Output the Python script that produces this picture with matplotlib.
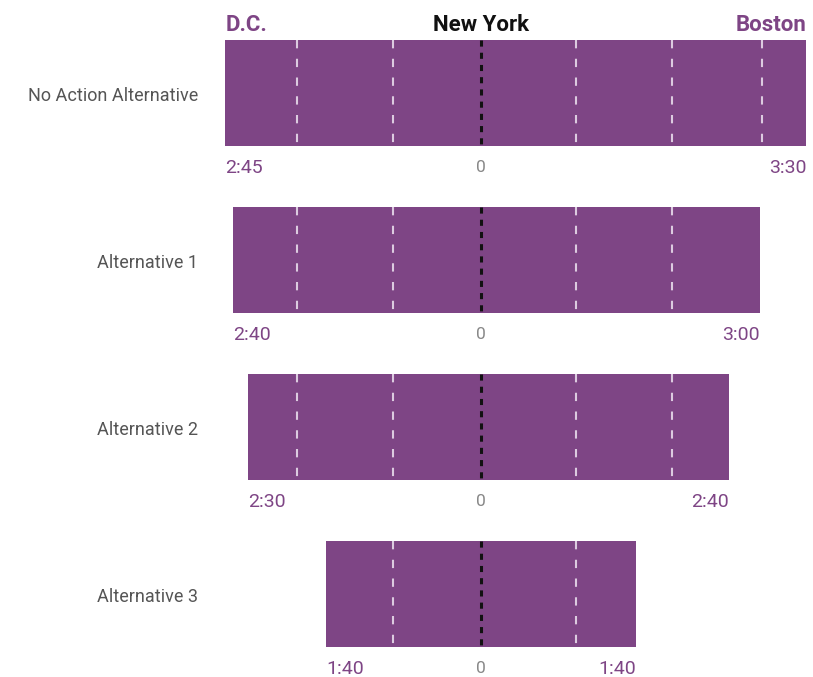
import matplotlib
matplotlib.use("Agg")
import matplotlib.pyplot as plt

# travel times in minutes from New York (toward D.C. / toward Boston)
alternatives = ["No Action Alternative", "Alternative 1", "Alternative 2", "Alternative 3"]
to_dc = [165, 160, 150, 100]
to_boston = [210, 180, 160, 100]
dc_labels = ["2:45", "2:40", "2:30", "1:40"]
boston_labels = ["3:30", "3:00", "2:40", "1:40"]

# intermediate stops along the corridor, minutes from New York
station_offsets = [-119, -57, 61, 123, 181]

purple = "#7e4585"
grey = "#555555"
narrow = ["Liberation Sans Narrow", "Roboto", "DejaVu Sans"]

fig = plt.figure(figsize=(8.13, 6.77), dpi=100)
ax = fig.add_axes([0, 0, 1, 1])
ax.set_xlim(-310.3, 214.2)
ax.set_ylim(3.497, -0.557)
ax.axis("off")

rows = list(range(len(alternatives)))
h = 0.635
ax.barh(rows, [l + r for l, r in zip(to_dc, to_boston)], left=[-l for l in to_dc],
        height=h, color=purple, linewidth=0)

label_x = -182.6
for i, (l, r) in enumerate(zip(to_dc, to_boston)):
    top, bot = i - h / 2, i + h / 2
    for s in station_offsets:
        if -l + 3 < s < r - 3:
            ax.plot([s, s], [top, bot], color="#dccbe0", lw=1.5,
                    dashes=(4, 5), solid_capstyle="butt")
    ax.plot([0, 0], [top, bot], color="#111111", lw=2.2, dashes=(2, 2))

    ax.text(label_x, i + 0.02, alternatives[i], ha="right", va="center",
            fontsize=13, color=grey, family=narrow)
    lab_y = bot + 0.13
    ax.text(-l, lab_y, dc_labels[i], ha="left", va="center",
            fontsize=14, color=purple, family=narrow)
    ax.text(r, lab_y, boston_labels[i], ha="right", va="center",
            fontsize=14, color=purple, family=narrow)
    ax.text(0, lab_y, "0", ha="center", va="center",
            fontsize=12.5, color="#888888", family=narrow)

top0 = -h / 2 - 0.09
ax.text(-to_dc[0], top0, "D.C.", ha="left", va="center", fontsize=16,
        fontweight="bold", color=purple, family=narrow)
ax.text(0, top0, "New York", ha="center", va="center", fontsize=16,
        fontweight="bold", color="#111111", family=narrow)
ax.text(to_boston[0], top0, "Boston", ha="right", va="center", fontsize=16,
        fontweight="bold", color=purple, family=narrow)

fig.savefig("out.png", dpi=100, facecolor="white")
